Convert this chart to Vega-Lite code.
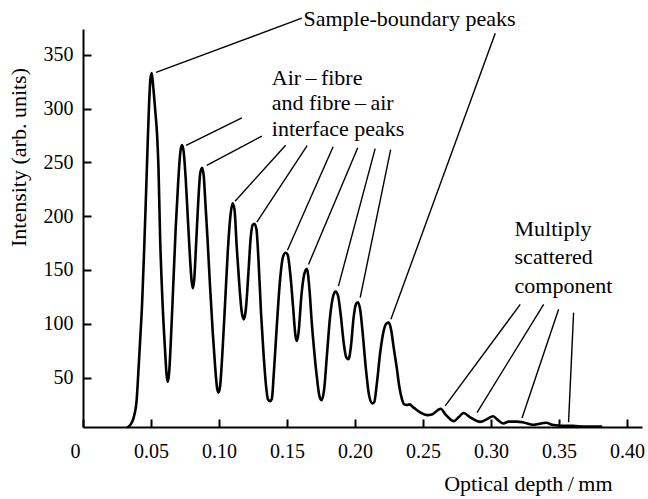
{
  "$schema": "https://vega.github.io/schema/vega-lite/v6.json",
  "width": 559,
  "height": 398,
  "autosize": "none",
  "padding": {"left": 83, "top": 29, "right": 6, "bottom": 72},
  "background": "white",
  "config": {
    "view": {"stroke": null},
    "font": "Liberation Serif, Times New Roman, DejaVu Serif, serif",
    "axis": {"grid": false, "domainColor": "black", "domainWidth": 2, "tickColor": "black", "tickWidth": 2, "tickSize": -8, "labelColor": "black", "titleColor": "black", "labelFont": "Liberation Serif, Times New Roman, DejaVu Serif, serif", "titleFont": "Liberation Serif, Times New Roman, DejaVu Serif, serif", "labelFontSize": 20, "titleFontSize": 22, "titleFontWeight": "normal"},
    "text": {"font": "Liberation Serif, Times New Roman, DejaVu Serif, serif"}
  },
  "datasets": {
    "curve": [
      {"depth": 0.0331, "intensity": 4},
      {"depth": 0.0356, "intensity": 7.5},
      {"depth": 0.0373, "intensity": 13},
      {"depth": 0.0395, "intensity": 30},
      {"depth": 0.0407, "intensity": 55},
      {"depth": 0.0419, "intensity": 82},
      {"depth": 0.0435, "intensity": 120},
      {"depth": 0.045, "intensity": 170},
      {"depth": 0.0462, "intensity": 215},
      {"depth": 0.0474, "intensity": 262},
      {"depth": 0.0486, "intensity": 305},
      {"depth": 0.0496, "intensity": 328},
      {"depth": 0.0505, "intensity": 333},
      {"depth": 0.0515, "intensity": 322},
      {"depth": 0.053, "intensity": 300},
      {"depth": 0.0545, "intensity": 275},
      {"depth": 0.0555, "intensity": 245},
      {"depth": 0.0567, "intensity": 180},
      {"depth": 0.0584, "intensity": 122},
      {"depth": 0.0603, "intensity": 76},
      {"depth": 0.0615, "intensity": 52},
      {"depth": 0.0623, "intensity": 46},
      {"depth": 0.0633, "intensity": 54},
      {"depth": 0.0648, "intensity": 90},
      {"depth": 0.0665, "intensity": 140},
      {"depth": 0.0682, "intensity": 190},
      {"depth": 0.07, "intensity": 232},
      {"depth": 0.0716, "intensity": 260},
      {"depth": 0.0728, "intensity": 266},
      {"depth": 0.074, "intensity": 260},
      {"depth": 0.0755, "intensity": 235},
      {"depth": 0.077, "intensity": 200},
      {"depth": 0.0785, "intensity": 165},
      {"depth": 0.0797, "intensity": 142},
      {"depth": 0.0807, "intensity": 133},
      {"depth": 0.0817, "intensity": 140},
      {"depth": 0.0832, "intensity": 175},
      {"depth": 0.0848, "intensity": 215},
      {"depth": 0.0862, "intensity": 240},
      {"depth": 0.0876, "intensity": 245},
      {"depth": 0.0888, "intensity": 237},
      {"depth": 0.09, "intensity": 212},
      {"depth": 0.0915, "intensity": 180},
      {"depth": 0.0934, "intensity": 135},
      {"depth": 0.0954, "intensity": 92},
      {"depth": 0.0971, "intensity": 61},
      {"depth": 0.0985, "intensity": 41},
      {"depth": 0.0996, "intensity": 36},
      {"depth": 0.1008, "intensity": 42},
      {"depth": 0.1025, "intensity": 73},
      {"depth": 0.1045, "intensity": 120},
      {"depth": 0.1064, "intensity": 166},
      {"depth": 0.1082, "intensity": 198},
      {"depth": 0.11, "intensity": 212},
      {"depth": 0.1114, "intensity": 206},
      {"depth": 0.113, "intensity": 172},
      {"depth": 0.115, "intensity": 135},
      {"depth": 0.1167, "intensity": 111},
      {"depth": 0.1182, "intensity": 104},
      {"depth": 0.1197, "intensity": 113},
      {"depth": 0.1216, "intensity": 147},
      {"depth": 0.1233, "intensity": 180},
      {"depth": 0.1248, "intensity": 192},
      {"depth": 0.126, "intensity": 193},
      {"depth": 0.1275, "intensity": 188},
      {"depth": 0.129, "intensity": 160},
      {"depth": 0.1309, "intensity": 110},
      {"depth": 0.1327, "intensity": 73},
      {"depth": 0.1346, "intensity": 42},
      {"depth": 0.1359, "intensity": 30},
      {"depth": 0.1376, "intensity": 28},
      {"depth": 0.1388, "intensity": 30},
      {"depth": 0.1405, "intensity": 58},
      {"depth": 0.1425, "intensity": 98},
      {"depth": 0.1449, "intensity": 141},
      {"depth": 0.147, "intensity": 162},
      {"depth": 0.149, "intensity": 166},
      {"depth": 0.1505, "intensity": 164},
      {"depth": 0.1525, "intensity": 145},
      {"depth": 0.1545, "intensity": 115},
      {"depth": 0.1562, "intensity": 89},
      {"depth": 0.1572, "intensity": 84},
      {"depth": 0.1585, "intensity": 92},
      {"depth": 0.1605, "intensity": 125},
      {"depth": 0.1625, "intensity": 145},
      {"depth": 0.1646, "intensity": 151},
      {"depth": 0.1665, "intensity": 132},
      {"depth": 0.1682, "intensity": 101},
      {"depth": 0.1699, "intensity": 76},
      {"depth": 0.1719, "intensity": 51},
      {"depth": 0.1738, "intensity": 33},
      {"depth": 0.1755, "intensity": 29},
      {"depth": 0.1773, "intensity": 39},
      {"depth": 0.1793, "intensity": 70},
      {"depth": 0.1817, "intensity": 107},
      {"depth": 0.184, "intensity": 126},
      {"depth": 0.1857, "intensity": 130},
      {"depth": 0.1875, "intensity": 126},
      {"depth": 0.1896, "intensity": 107},
      {"depth": 0.1916, "intensity": 83},
      {"depth": 0.1935, "intensity": 69},
      {"depth": 0.1952, "intensity": 67},
      {"depth": 0.197, "intensity": 79},
      {"depth": 0.1989, "intensity": 105},
      {"depth": 0.2006, "intensity": 118},
      {"depth": 0.2021, "intensity": 120},
      {"depth": 0.2038, "intensity": 113},
      {"depth": 0.2058, "intensity": 89},
      {"depth": 0.208, "intensity": 58},
      {"depth": 0.2104, "intensity": 33},
      {"depth": 0.2127, "intensity": 26},
      {"depth": 0.2141, "intensity": 27},
      {"depth": 0.2161, "intensity": 45},
      {"depth": 0.2185, "intensity": 73},
      {"depth": 0.221, "intensity": 93},
      {"depth": 0.2229, "intensity": 100},
      {"depth": 0.2249, "intensity": 101},
      {"depth": 0.2266, "intensity": 94},
      {"depth": 0.2283, "intensity": 79},
      {"depth": 0.2308, "intensity": 58},
      {"depth": 0.2325, "intensity": 42},
      {"depth": 0.2345, "intensity": 30},
      {"depth": 0.2362, "intensity": 25},
      {"depth": 0.238, "intensity": 24.5},
      {"depth": 0.24, "intensity": 25},
      {"depth": 0.2431, "intensity": 22},
      {"depth": 0.248, "intensity": 17.5},
      {"depth": 0.2529, "intensity": 15},
      {"depth": 0.2565, "intensity": 15.6},
      {"depth": 0.263, "intensity": 21},
      {"depth": 0.2663, "intensity": 16},
      {"depth": 0.2725, "intensity": 9.5},
      {"depth": 0.2761, "intensity": 13},
      {"depth": 0.2798, "intensity": 17},
      {"depth": 0.2847, "intensity": 13},
      {"depth": 0.2921, "intensity": 8.8},
      {"depth": 0.297, "intensity": 11.3},
      {"depth": 0.3015, "intensity": 14},
      {"depth": 0.3043, "intensity": 11.3},
      {"depth": 0.309, "intensity": 7.3},
      {"depth": 0.313, "intensity": 9},
      {"depth": 0.319, "intensity": 9},
      {"depth": 0.3239, "intensity": 8.2},
      {"depth": 0.331, "intensity": 6},
      {"depth": 0.3406, "intensity": 8},
      {"depth": 0.345, "intensity": 6},
      {"depth": 0.3509, "intensity": 5.2},
      {"depth": 0.36, "intensity": 5},
      {"depth": 0.37, "intensity": 4.5},
      {"depth": 0.381, "intensity": 4.5}
    ],
    "leaders": [
      {"x1": 0.0537, "y1": 333.6, "x2": 0.1609, "y2": 384.1},
      {"x1": 0.2264, "y1": 104.1, "x2": 0.3031, "y2": 370.1},
      {"x1": 0.0758, "y1": 265.8, "x2": 0.1168, "y2": 291.3},
      {"x1": 0.091, "y1": 247.3, "x2": 0.1315, "y2": 274.4},
      {"x1": 0.1118, "y1": 213.9, "x2": 0.149, "y2": 266.0},
      {"x1": 0.1278, "y1": 194.4, "x2": 0.1648, "y2": 265.6},
      {"x1": 0.1503, "y1": 168.4, "x2": 0.1839, "y2": 264.6},
      {"x1": 0.1658, "y1": 155.1, "x2": 0.202, "y2": 263.7},
      {"x1": 0.1878, "y1": 135.0, "x2": 0.2148, "y2": 262.8},
      {"x1": 0.2038, "y1": 124.2, "x2": 0.2262, "y2": 261.9},
      {"x1": 0.2663, "y1": 23.7, "x2": 0.3215, "y2": 118.0},
      {"x1": 0.2897, "y1": 17.4, "x2": 0.3387, "y2": 118.0},
      {"x1": 0.3228, "y1": 12.4, "x2": 0.3497, "y2": 113.4},
      {"x1": 0.357, "y1": 8.5, "x2": 0.3607, "y2": 110.3}
    ],
    "notes": [
      {"x": 0.1621, "y": 377.2, "label": "Sample-boundary peaks"},
      {"x": 0.1388, "y": 321.5, "label": "Air\u2009–\u2009fibre"},
      {"x": 0.1388, "y": 299.0, "label": "and fibre\u2009–\u2009air"},
      {"x": 0.1388, "y": 274.2, "label": "interface peaks"},
      {"x": 0.3173, "y": 181.1, "label": "Multiply"},
      {"x": 0.3173, "y": 155.1, "label": "scattered"},
      {"x": 0.3173, "y": 128.2, "label": "component"}
    ]
  },
  "layer": [
    {
      "data": {"name": "curve"},
      "mark": {"type": "line", "interpolate": "monotone", "color": "black", "strokeWidth": 2.6, "strokeJoin": "round", "strokeCap": "round"},
      "encoding": {
        "x": {"field": "depth", "type": "quantitative", "scale": {"domain": [0, 0.411], "nice": false, "zero": false},
          "axis": {"values": [0, 0.05, 0.1, 0.15, 0.2, 0.25, 0.3, 0.35, 0.4], "labelExpr": "datum.value == 0 ? '0' : format(datum.value, '.2f')", "labelPadding": 22, "labelOffset": {"condition": {"test": "datum.value == 0", "value": -13}, "value": 0}, "title": "Optical depth\u2009/\u2009mm", "titleX": 529, "titleY": 63, "titleAlign": "right", "titleBaseline": "alphabetic"}},
        "y": {"field": "intensity", "type": "quantitative", "scale": {"domain": [4, 374], "nice": false, "zero": false},
          "axis": {"values": [50, 100, 150, 200, 250, 300, 350], "labelPadding": 18, "title": "Intensity (arb. units)", "titleX": -58, "titleY": 128, "titleAngle": -90, "titleAlign": "center", "titleBaseline": "alphabetic"}}
      }
    },
    {
      "data": {"name": "leaders"},
      "mark": {"type": "rule", "color": "black", "strokeWidth": 1.4},
      "encoding": {
        "x": {"field": "x1", "type": "quantitative"},
        "y": {"field": "y1", "type": "quantitative"},
        "x2": {"field": "x2"},
        "y2": {"field": "y2"}
      }
    },
    {
      "data": {"name": "notes"},
      "mark": {"type": "text", "align": "left", "baseline": "alphabetic", "font": "Liberation Serif, Times New Roman, DejaVu Serif, serif", "fontSize": 22, "color": "black"},
      "encoding": {
        "x": {"field": "x", "type": "quantitative"},
        "y": {"field": "y", "type": "quantitative"},
        "text": {"field": "label"}
      }
    }
  ]
}
